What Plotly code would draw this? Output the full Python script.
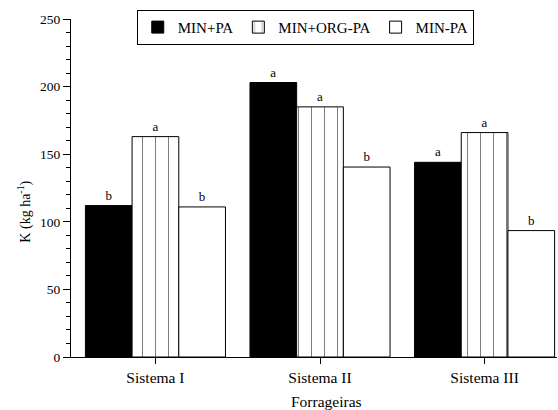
import plotly.graph_objects as go

categories = ["Sistema I", "Sistema II", "Sistema III"]
series_names = ["MIN+PA", "MIN+ORG-PA", "MIN-PA"]
min_pa = [112, 203, 144]
min_org_pa = [163, 185, 166]
min_minus_pa = [111, 140.5, 93.5]
letters_min_pa = ["b", "a", "a"]
letters_min_org_pa = ["a", "a", "a"]
letters_min_minus_pa = ["b", "b", "b"]
y_title = "K (kg ha<sup>-1</sup>)"
x_title = "Forrageiras"

FONT = "Liberation Serif"
xpos = list(range(len(categories)))

def bar(y, name, marker, letters):
    return go.Bar(
        x=xpos, y=y, name=name, marker=marker,
        text=letters, textposition="outside", cliponaxis=False,
        textfont=dict(family=FONT, size=13, color="black"),
    )

fig = go.Figure()
fig.add_trace(bar(min_pa, series_names[0],
                  dict(color="black", line=dict(color="black", width=1)), letters_min_pa))
fig.add_trace(bar(min_org_pa, series_names[1],
                  dict(color="white", line=dict(color="black", width=1),
                       pattern=dict(shape="|", size=13, solidity=0.08,
                                    fgcolor="black", bgcolor="white", fillmode="overlay")),
                  letters_min_org_pa))
fig.add_trace(bar(min_minus_pa, series_names[2],
                  dict(color="white", line=dict(color="black", width=1)), letters_min_minus_pa))

fig.update_layout(
    width=558, height=410,
    margin=dict(l=71, r=1, t=19, b=53, autoexpand=False),
    paper_bgcolor="white", plot_bgcolor="white",
    barmode="group", bargap=0.149, bargroupgap=0,
    font=dict(family=FONT, size=13, color="black"),
    showlegend=True,
    legend=dict(
        orientation="h", x=0.482, y=1.027, xanchor="center", yanchor="top",
        bordercolor="black", borderwidth=1, bgcolor="white",
        font=dict(family=FONT, size=15, color="black"),
        itemwidth=30, tracegroupgap=0,
    ),
    xaxis=dict(
        range=[-0.513, 2.44], automargin=False,
        tickmode="array", tickvals=xpos, ticktext=categories,
        showline=True, linecolor="black", linewidth=1,
        ticks="outside", ticklen=6, tickcolor="black",
        showgrid=False, zeroline=False,
        tickfont=dict(family=FONT, size=15.5),
    ),
    yaxis=dict(
        range=[0, 250], automargin=False,
        tickmode="linear", tick0=0, dtick=50,
        showline=True, linecolor="black", linewidth=1,
        ticks="outside", ticklen=7, tickcolor="black",
        minor=dict(dtick=10, ticks="outside", ticklen=4, tickcolor="black"),
        showgrid=False, zeroline=False,
        tickfont=dict(family=FONT, size=13.5),
    ),
    annotations=[
        dict(text=y_title, xref="paper", yref="paper", x=-0.0947, y=0.43,
             xanchor="center", yanchor="middle", textangle=-90, showarrow=False,
             font=dict(family=FONT, size=14, color="black")),
        dict(text=x_title, xref="paper", yref="paper", x=0.5247, y=-0.131,
             xanchor="center", yanchor="middle", showarrow=False,
             font=dict(family=FONT, size=15.5, color="black")),
    ],
)

fig.write_html("out.html", config={"displayModeBar": False},
               post_script="document.body.style.margin='0';")
